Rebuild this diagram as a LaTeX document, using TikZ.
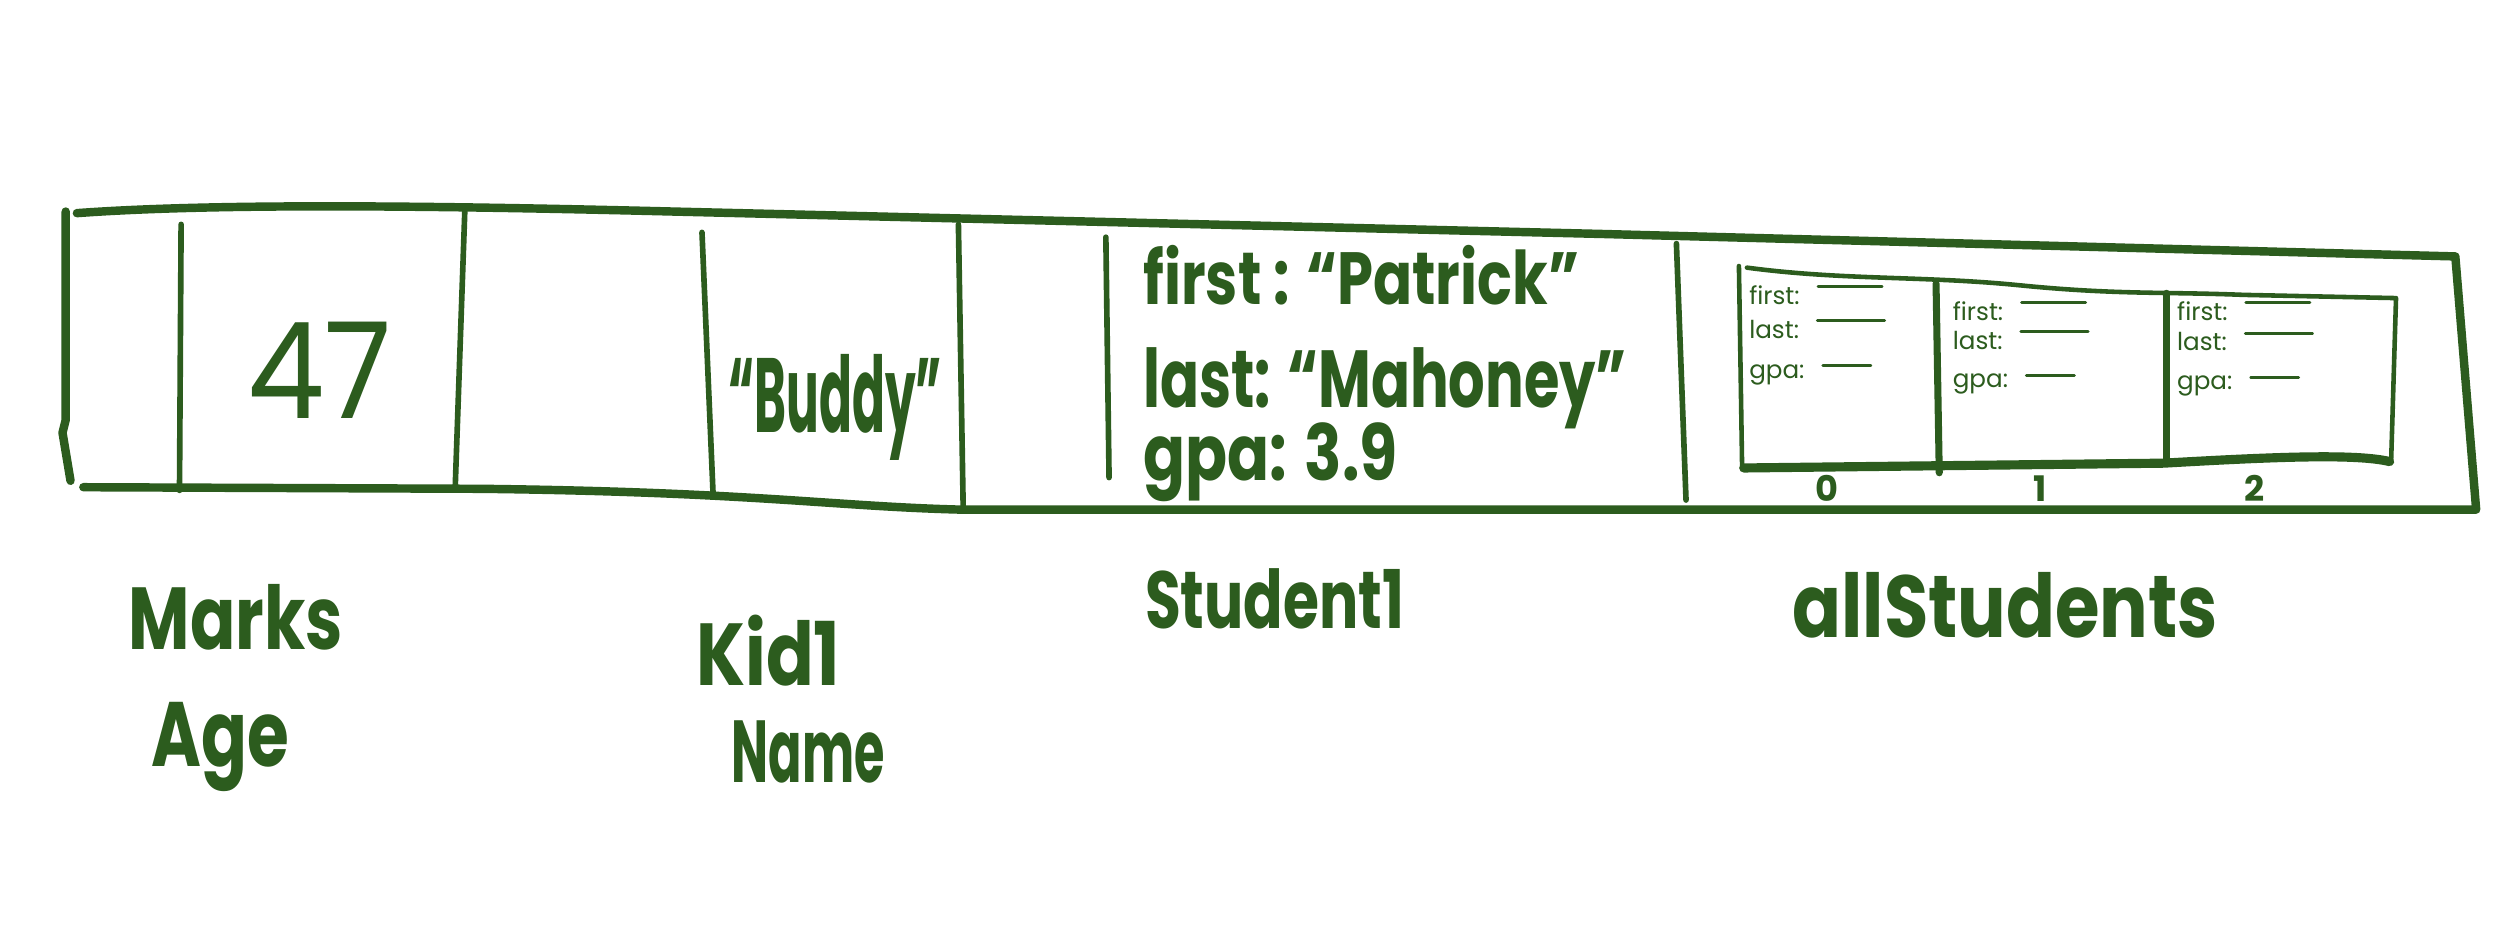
\documentclass[tikz,border=0pt]{standalone}
\usepackage{fontspec}
\setmainfont{Poppins}
\usepackage{graphicx}
\definecolor{ink}{RGB}{44,92,30}
\newcommand{\hwfont}[1]{\fontsize{#1}{#1}\selectfont}
\newcommand{\narrow}[2]{\scalebox{#1}[1]{#2}}
\begin{document}
\begin{tikzpicture}[x=0.016cm,y=-0.016cm,line cap=round,line join=round,
  band/.style={draw=ink,line width=2.4pt},
  divider/.style={draw=ink,line width=1.6pt},
  inner/.style={draw=ink,line width=1.3pt},
  blank/.style={draw=ink,line width=0.8pt},
  hw/.style={text=ink,inner sep=0pt,anchor=base west},
  bighw/.style={hw,font=\bfseries\hwfont{#1}},
  tiny/.style={hw,font=\hwfont{7}},
  idx/.style={text=ink,inner sep=0pt,anchor=base,font=\bfseries\hwfont{10}}]
\useasboundingbox (0,0) rectangle (1568,583);
\fill[white] (0,0) rectangle (1568,583);

% outer band
\draw[band] (48,133) .. controls (130,127) and (260,128) .. (420,132) -- (1000,146) -- (1532,160) -- (1545,318) -- (600,318) .. controls (520,316) and (470,307) .. (300,305) -- (52,304);
\draw[band] (41,132) -- (41,262) -- (39,270) -- (44,300);

% dividers
\draw[divider] (113,140) -- (112,306);
\draw[divider] (290,132) -- (284,305);
\draw[divider] (438,145) -- (445,310);
\draw[divider] (598,140) -- (601,318);
\draw[divider] (690,148) -- (692,298);
\draw[divider] (1046,152) -- (1052,312);

% inner array
\draw[inner] (1085,166) -- (1087,292);
\draw[inner] (1090,167) .. controls (1150,175) and (1200,172) .. (1260,178) .. controls (1320,184) and (1350,182) .. (1400,184) -- (1495,186) -- (1492,286);
\draw[draw=ink,line width=2.6pt] (1088,292) -- (1350,289) .. controls (1420,285) and (1470,283) .. (1491,288);
\draw[draw=ink,line width=2pt] (1208,177) -- (1210,295);
\draw[draw=ink,line width=2pt] (1352,183) -- (1352,287);

% index labels
\node[idx] (i0) at (1140,313) {0};
\node[idx] (i1) at (1273,313) {1};
\node[idx] (i2) at (1407,313) {2};

% values
\node[hw,font=\hwfont{38}] (v47) at (154,261) {\narrow{0.92}{47}};
\node[bighw=30] (vbuddy) at (454,270) {\narrow{0.46}{“Buddy”}};

% Student1 contents
\node[bighw=21] (sfirst) at (713,190) {\narrow{0.78}{first : “Patrick”}};
\node[bighw=23] (slast) at (713,254) {\narrow{0.71}{last: “Mahoney”}};
\node[bighw=22] (sgpa) at (713,300) {\narrow{0.8}{gpa: 3.9}};

% allStudents cells
\node[tiny] (a1) at (1091,190) {first:};
\node[tiny] (b1) at (1091,211) {last:};
\node[tiny] (c1) at (1091,236) {gpa:};
\node[tiny] (a2) at (1218,200) {first:};
\node[tiny] (b2) at (1218,218) {last:};
\node[tiny] (c2) at (1218,242) {gpa:};
\node[tiny] (a3) at (1358,200) {first:};
\node[tiny] (b3) at (1358,219) {last:};
\node[tiny] (c3) at (1358,243) {gpa:};
\foreach \n/\len in {a1/40,b1/42,c1/30,a2/40,b2/42,c2/30,a3/40,b3/42,c3/30}{
  \draw[blank] ([xshift=5pt,yshift=2.5pt]\n.east) -- ++(\len,0);
}

% labels
\node[bighw=25] (lmarks) at (80,405) {\narrow{0.76}{Marks}};
\node[bighw=26] (lage) at (94,478) {\narrow{0.74}{Age}};
\node[bighw=25] (lkid) at (434,428) {\narrow{0.8}{Kid1}};
\node[bighw=25] (lname) at (456,488) {\narrow{0.56}{Name}};
\node[bighw=23] (lstudent) at (714,392) {\narrow{0.72}{Student1}};
\node[bighw=25] (lall) at (1118,398) {\narrow{0.82}{allStudents}};
\end{tikzpicture}
\end{document}
